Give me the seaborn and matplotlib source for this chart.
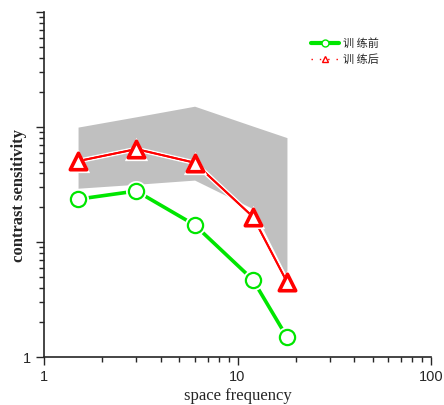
import numpy as np
import pandas as pd
import matplotlib
matplotlib.use("Agg")
import matplotlib.pyplot as plt
import seaborn as sns
from matplotlib.lines import Line2D
import matplotlib.patheffects as pe
from matplotlib.ticker import LogLocator, FixedLocator, NullFormatter, FixedFormatter

freq = [1.5, 3, 6, 12, 18]
before = [23.6, 27.8, 14.1, 4.7, 1.49]
after = [50.6, 64.4, 49.0, 16.6, 4.5]
band_upper = [100, 123, 152, 102, 81]
band_lower = [29.4, 31.8, 34.6, 19.5, 5.0]
label_before = "训 练前"
label_after = "训 练后"
x_ticks = [1, 10, 100]
x_ticklabels = ["1", "10", "100"]

sns.set_style("ticks")
plt.rcParams['font.family'] = ['Liberation Sans', 'Noto Sans CJK SC', 'DejaVu Sans']

df = pd.DataFrame({"freq": freq, "before": before, "after": after})

fig = plt.figure(figsize=(4.44, 4.05), dpi=100)
ax = fig.add_axes([0.099, 0.1185, 0.872, 0.8515])
ax.set_xscale("log")
ax.set_yscale("log")

ax.fill_between(freq, band_lower, band_upper, color="#c0c0c0", linewidth=0, zorder=1)

green = "#00e600"
red = "#ff0000"

sns.lineplot(data=df, x="freq", y="before", ax=ax, color=green, linewidth=2.6, zorder=2)
sns.lineplot(data=df, x="freq", y="after", ax=ax, color=red, linewidth=1.4, zorder=3,
             path_effects=[pe.withStroke(linewidth=3.5, foreground="white"), pe.Normal()])

# white halos around markers to create gaps
sns.scatterplot(data=df, x="freq", y="before", ax=ax, marker="o", s=230, color="white",
                edgecolor="white", linewidth=0, zorder=4)
sns.scatterplot(data=df, x="freq", y="before", ax=ax, marker="o", s=120, facecolor="white",
                edgecolor=green, linewidth=1.6, zorder=5)
sns.scatterplot(data=df, x="freq", y="after", ax=ax, marker="^", s=280, color="white",
                edgecolor="white", linewidth=0, zorder=4)
sns.scatterplot(data=df, x="freq", y="after", ax=ax, marker="^", s=140, facecolor="white",
                edgecolor=red, linewidth=2.6, zorder=5)

ax.set_xlim(1, 100)
ax.set_ylim(1, 1000)
ax.xaxis.set_major_locator(FixedLocator(x_ticks))
ax.xaxis.set_major_formatter(FixedFormatter(x_ticklabels))
ax.xaxis.set_minor_locator(LogLocator(base=10, subs=np.arange(2, 10)))
ax.xaxis.set_minor_formatter(NullFormatter())
ax.yaxis.set_major_locator(FixedLocator([1, 10, 100, 1000]))
ax.yaxis.set_major_formatter(FixedFormatter(["1", "", "", ""]))
ax.yaxis.set_minor_locator(LogLocator(base=10, subs=np.arange(2, 10)))
ax.yaxis.set_minor_formatter(NullFormatter())
ax.tick_params(which="major", length=6, width=1, labelsize=10.5, direction="out")
ax.tick_params(which="minor", length=3.5, width=1, direction="out")

for s in ["top", "right"]:
    ax.spines[s].set_visible(False)
for s in ["left", "bottom"]:
    ax.spines[s].set_linewidth(1.2)

ax.set_xlabel("space frequency", family="Liberation Serif", fontsize=12, labelpad=3)
ax.set_ylabel("contrast sensitivity", family="Liberation Serif", fontsize=12,
              fontweight="bold")
ax.yaxis.set_label_coords(-0.044, 0.467)

handles = [
    Line2D([0], [0], color=green, linewidth=3, marker="o", markersize=5,
           markerfacecolor="white", markeredgecolor=green, markeredgewidth=1),
    Line2D([0], [0], color=red, linewidth=1, linestyle=(0, (1, 5)), marker="^", markersize=5,
           markerfacecolor="white", markeredgecolor=red, markeredgewidth=1),
]
leg = ax.legend(handles, [label_before, label_after], loc="upper left",
                bbox_to_anchor=(0.665, 0.955), frameon=False,
                handlelength=2.5, handletextpad=0.3, labelspacing=0.55,
                prop={"family": ["Noto Sans CJK SC", "DejaVu Sans"], "size": 8})

fig.savefig("out.png", dpi=100)
